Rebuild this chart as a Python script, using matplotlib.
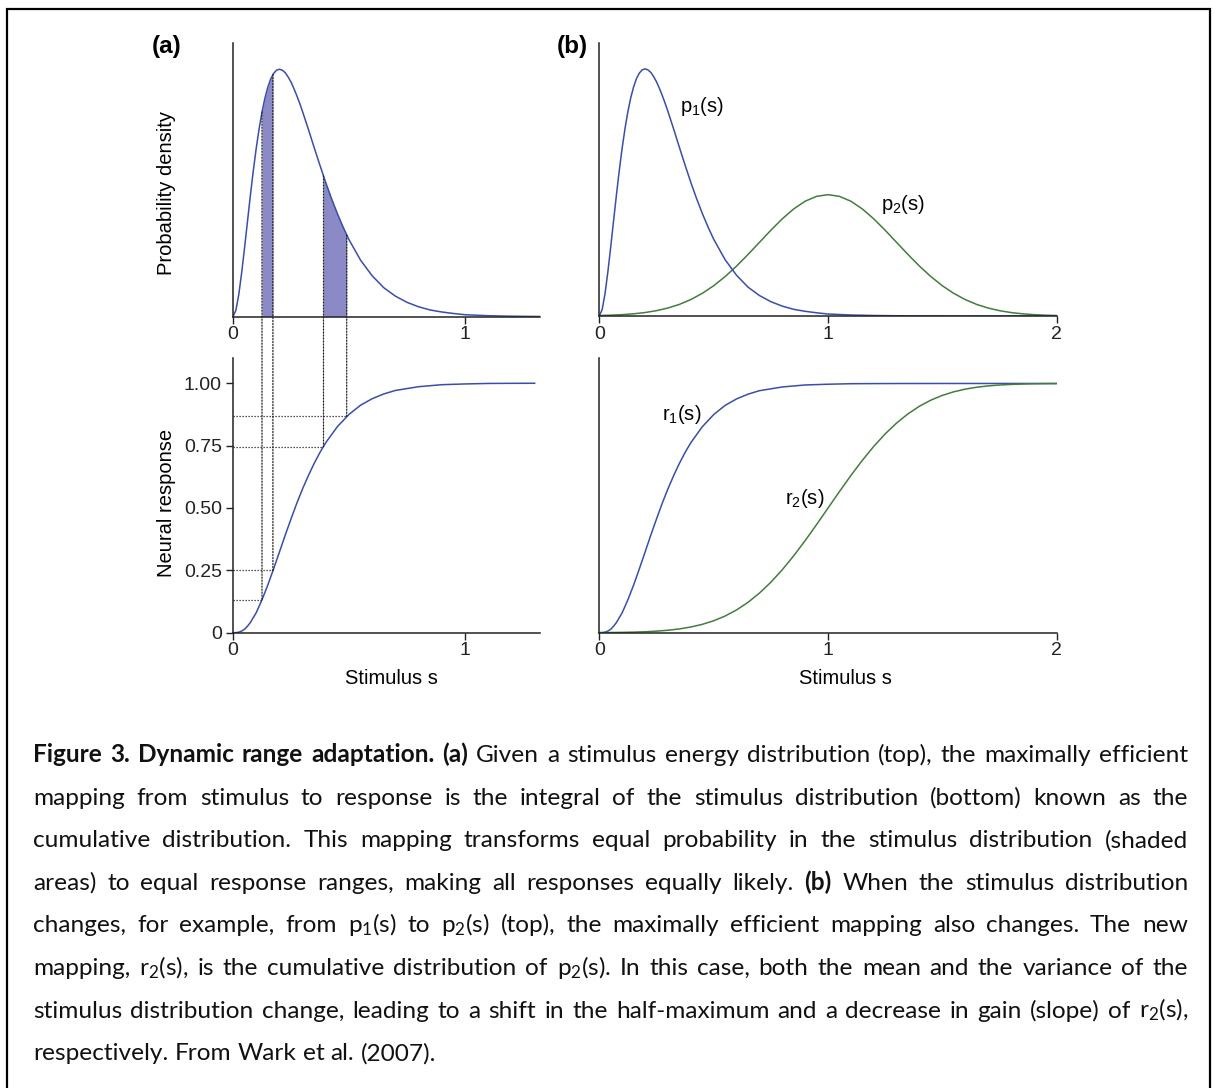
import matplotlib
matplotlib.use("Agg")
import matplotlib.pyplot as plt
from matplotlib.patches import Rectangle, ConnectionPatch

# ---- values ----------------------------------------------------------------
# p1(s): skewed stimulus density, scaled so the peak is 1
s_p1 = [0, 0.0125, 0.025, 0.0375, 0.05, 0.0625, 0.075, 0.0875, 0.1, 0.1125,
        0.125, 0.1375, 0.15, 0.1625, 0.175, 0.1875, 0.2, 0.2125, 0.225,
        0.2375, 0.25, 0.2625, 0.275, 0.2875, 0.3, 0.325, 0.35, 0.375, 0.4,
        0.425, 0.45, 0.475, 0.5, 0.55, 0.6, 0.65, 0.7, 0.75, 0.8, 0.85, 0.9,
        0.95, 1.0, 1.1, 1.2, 1.3, 1.4, 1.6, 1.8, 2.0]
p1 = [0, 0.026, 0.090, 0.179, 0.280, 0.386, 0.491, 0.590, 0.680, 0.759,
      0.827, 0.883, 0.927, 0.961, 0.983, 0.996, 1.0, 0.996, 0.986, 0.969,
      0.948, 0.922, 0.893, 0.862, 0.828, 0.757, 0.683, 0.611, 0.541, 0.476,
      0.416, 0.361, 0.311, 0.228, 0.165, 0.117, 0.083, 0.058, 0.040, 0.027,
      0.019, 0.013, 0.008, 0.004, 0.002, 0.001, 0.0003, 0, 0, 0]

# r1(s): response curve (cumulative of p1)
s_r1 = [0, 0.0125, 0.025, 0.0375, 0.05, 0.0625, 0.075, 0.1, 0.125, 0.15,
        0.175, 0.2, 0.225, 0.25, 0.275, 0.3, 0.325, 0.35, 0.375, 0.4, 0.45,
        0.5, 0.55, 0.6, 0.65, 0.7, 0.8, 0.9, 1.0, 1.1, 1.2, 1.3, 1.5, 2.0]
r1 = [0, 0.0003, 0.002, 0.0066, 0.014, 0.026, 0.041, 0.080, 0.132, 0.191,
      0.256, 0.323, 0.391, 0.456, 0.519, 0.577, 0.630, 0.679, 0.723, 0.762,
      0.826, 0.875, 0.912, 0.938, 0.957, 0.971, 0.986, 0.994, 0.997, 0.999,
      0.9995, 0.9998, 1.0, 1.0]

# p2(s) and r2(s), same scale as p1 / r1
s_2 = [0.0, 0.05, 0.1, 0.15, 0.2, 0.25, 0.3, 0.35, 0.4, 0.45, 0.5, 0.55, 0.6,
       0.65, 0.7, 0.75, 0.8, 0.85, 0.9, 0.95, 1.0, 1.05, 1.1, 1.15, 1.2, 1.25,
       1.3, 1.35, 1.4, 1.45, 1.5, 1.55, 1.6, 1.65, 1.7, 1.75, 1.8, 1.85, 1.9,
       1.95, 2.0]
p2 = [0.0019, 0.0033, 0.0055, 0.0089, 0.0140, 0.0216, 0.0323, 0.0469, 0.0665,
      0.0915, 0.1224, 0.1594, 0.2019, 0.2486, 0.2978, 0.3470, 0.3932, 0.4333,
      0.4645, 0.4842, 0.491, 0.4842, 0.4645, 0.4333, 0.3932, 0.3470, 0.2978,
      0.2486, 0.2019, 0.1594, 0.1224, 0.0915, 0.0665, 0.0469, 0.0323, 0.0216,
      0.0140, 0.0089, 0.0055, 0.0033, 0.0019]
r2 = [0.0004, 0.0008, 0.0013, 0.0023, 0.0038, 0.0062, 0.0098, 0.0151, 0.0228,
      0.0334, 0.0478, 0.0668, 0.0912, 0.1217, 0.1587, 0.2023, 0.2525, 0.3085,
      0.3694, 0.4338, 0.5, 0.5662, 0.6306, 0.6915, 0.7475, 0.7977, 0.8413,
      0.8783, 0.9088, 0.9332, 0.9522, 0.9666, 0.9772, 0.9849, 0.9902, 0.9938,
      0.9962, 0.9977, 0.9987, 0.9992, 0.9996]

# shaded slices in (a) and the response levels they map onto
cut_s = [0.125, 0.172, 0.39, 0.49]
cut_p = [0.827, 0.979, 0.569, 0.330]
cut_r = [0.13, 0.25, 0.745, 0.867]
shade1_s = [0.125, 0.1375, 0.15, 0.1625, 0.172]
shade1_p = [0.827, 0.883, 0.927, 0.961, 0.979]
shade2_s = [0.39, 0.4, 0.425, 0.45, 0.475, 0.49]
shade2_p = [0.569, 0.541, 0.476, 0.416, 0.361, 0.330]

yticks_resp = [0, 0.25, 0.5, 0.75, 1.0]
ytick_labels = ["0", "0.25", "0.50", "0.75", "1.00"]

caption = [
    [("Figure 3. Dynamic range adaptation. (a)", True),
     ("Given a stimulus energy distribution (top), the maximally efficient", False)],
    [("mapping from stimulus to response is the integral of the stimulus "
      "distribution (bottom) known as the", False)],
    [("cumulative distribution. This mapping transforms equal probability in "
      "the stimulus distribution (shaded", False)],
    [("areas) to equal response ranges, making all responses equally likely.", False),
     ("(b)", True), ("When the stimulus distribution", False)],
    [(r"changes, for example, from $\mathregular{p_1}$(s) to $\mathregular{p_2}$(s) "
      "(top), the maximally efficient mapping also changes. The new", False)],
    [(r"mapping, $\mathregular{r_2}$(s), is the cumulative distribution of "
      r"$\mathregular{p_2}$(s). In this case, both the mean and the variance of the", False)],
    [("stimulus distribution change, leading to a shift in the half-maximum and "
      r"a decrease in gain (slope) of $\mathregular{r_2}$(s),", False)],
    [("respectively. From Wark et al. (2007).", False)],
]

BLUE = "#3a4ea8"
GREEN = "#437d3c"
SHADE = "#8c8ac6"
DOT = (0, (1, 1.4))
LW = 1.1

W, H = 1215, 1088
plt.rcParams["font.family"] = ["Liberation Sans", "DejaVu Sans"]
fig = plt.figure(figsize=(W / 100, H / 100), dpi=100)


def fx(x):
    return x / W


def fy(y):
    return 1 - y / H


def box(l, t, r, b):
    return [l / W, 1 - b / H, (r - l) / W, (b - t) / H]


def style(ax, xmax, ymax, xticks):
    ax.set_xlim(0, xmax)
    ax.set_ylim(0, ymax)
    ax.patch.set_visible(False)
    for sp in ("top", "right"):
        ax.spines[sp].set_visible(False)
    for sp in ("left", "bottom"):
        ax.spines[sp].set_linewidth(1.1)
        ax.spines[sp].set_color("#222222")
    ax.set_xticks(xticks)
    ax.set_xticklabels([str(t) for t in xticks])
    ax.set_yticks([])
    ax.tick_params(axis="both", direction="out", length=5, width=1,
                   labelsize=14, colors="#222222", pad=2)


ax_at = fig.add_axes(box(233, 43, 540, 316.7))
ax_ab = fig.add_axes(box(233, 358, 540, 632.7))
ax_bt = fig.add_axes(box(599.3, 42.7, 1056.7, 316))
ax_bb = fig.add_axes(box(599.3, 358.3, 1056.7, 632.7))

style(ax_at, 1.323, 1.106, [0, 1])
style(ax_ab, 1.323, 1.101, [0, 1])
style(ax_bt, 2, 1.106, [0, 1, 2])
style(ax_bb, 2, 1.101, [0, 1, 2])

# (a) top: density with shaded slices
ax_at.fill_between(shade1_s, 0, shade1_p, color=SHADE, lw=0)
ax_at.fill_between(shade2_s, 0, shade2_p, color=SHADE, lw=0)
ax_at.plot(s_p1, p1, color=BLUE, lw=LW)

# (a) bottom: response curve with dotted mapping lines
n_a = len([s for s in s_r1 if s <= 1.3])
ax_ab.plot(s_r1[:n_a], r1[:n_a], color=BLUE, lw=LW)
ax_ab.set_yticks(yticks_resp)
ax_ab.set_yticklabels(ytick_labels)
ax_ab.tick_params(axis="y", pad=3)
for x, p, r in zip(cut_s, cut_p, cut_r):
    con = ConnectionPatch(xyA=(x, p), coordsA=ax_at.transData,
                          xyB=(x, r), coordsB=ax_ab.transData,
                          linestyle=DOT, lw=0.9, color="#222222")
    fig.add_artist(con)
    ax_ab.plot([0, x], [r, r], linestyle=DOT, lw=0.9, color="#222222")

# (b) top: two densities
ax_bt.plot(s_2, p2, color=GREEN, lw=LW)
ax_bt.plot(s_p1, p1, color=BLUE, lw=LW)

# (b) bottom: two response curves
ax_bb.plot(s_r1, r1, color=BLUE, lw=LW)
ax_bb.plot(s_2, r2, color=GREEN, lw=LW)

# labels
fig.text(fx(166.7), fy(46), "(a)", fontsize=17.5, weight="bold", ha="center", va="center")
fig.text(fx(572.5), fy(46.7), "(b)", fontsize=17.5, weight="bold", ha="center", va="center")
fig.text(fx(167), fy(193), "Probability density", rotation=90, fontsize=14.5,
         ha="center", va="center")
fig.text(fx(166), fy(503), "Neural response", rotation=90, fontsize=14.5,
         ha="center", va="center")
fig.text(fx(391), fy(678), "Stimulus s", fontsize=14.5, ha="center", va="center")
fig.text(fx(845), fy(678), "Stimulus s", fontsize=14.5, ha="center", va="center")
fig.text(fx(702), fy(107), r"$\mathregular{p_1}$(s)", fontsize=14.5, ha="center", va="center")
fig.text(fx(903), fy(205), r"$\mathregular{p_2}$(s)", fontsize=14.5, ha="center", va="center")
fig.text(fx(682), fy(415), r"$\mathregular{r_1}$(s)", fontsize=14.5, ha="center", va="center")
fig.text(fx(805), fy(499), r"$\mathregular{r_2}$(s)", fontsize=14.5, ha="center", va="center")

# outer frame
fig.add_artist(Rectangle((fx(7), fy(1100)), (1210 - 7) / W, (1100 - 9) / H,
                         transform=fig.transFigure, fill=False, lw=1.6,
                         ec="black"))

# ---- justified caption ------------------------------------------------------
renderer = fig.canvas.get_renderer()
cap_left, cap_right = 33, 1188
base0, lead = 762, 42.6


def make_words(segs, fs):
    arts = []
    for txt, bold in segs:
        for w in txt.split():
            arts.append(fig.text(0, 0, w, fontsize=fs, family="Lato",
                                 weight="bold" if bold else "normal",
                                 va="baseline", ha="left", color="#111111"))
    return arts


def widths(arts):
    return [a.get_window_extent(renderer).width for a in arts]


def space_width(fs):
    t1 = fig.text(0, 0, "a a", fontsize=fs, family="Lato")
    t2 = fig.text(0, 0, "aa", fontsize=fs, family="Lato")
    w = t1.get_window_extent(renderer).width - t2.get_window_extent(renderer).width
    t1.remove()
    t2.remove()
    return w


# size the font so the last (unjustified) line is as long as in the original
trial = make_words(caption[-1], 10)
tw = sum(widths(trial)) + (len(trial) - 1) * space_width(10)
for a in trial:
    a.remove()
fs = 10 * 402 / tw
sp = space_width(fs)

for k, segs in enumerate(caption):
    arts = make_words(segs, fs)
    ws = widths(arts)
    if k == len(caption) - 1:
        gap = sp
    else:
        gap = (cap_right - cap_left - sum(ws)) / (len(arts) - 1)
    x = cap_left
    y = base0 + k * lead
    for a, w in zip(arts, ws):
        a.set_position((fx(x), fy(y)))
        x += w + gap

fig.savefig("out.png", dpi=100)
